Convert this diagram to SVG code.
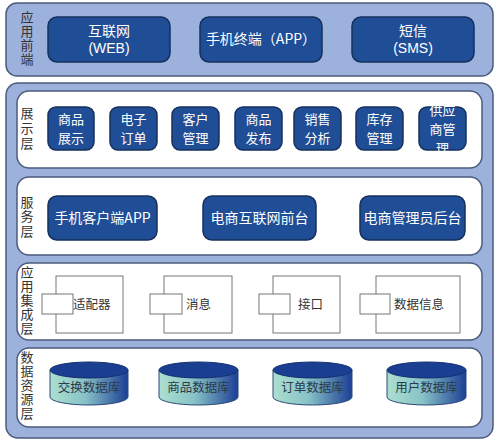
<svg xmlns="http://www.w3.org/2000/svg" width="499" height="447" viewBox="0 0 499 447">
<defs>
<linearGradient id="cyl" x1="0" y1="0" x2="1" y2="0">
<stop offset="0" stop-color="#acdfd0"/>
<stop offset="0.45" stop-color="#88c2c6"/>
<stop offset="1" stop-color="#1c3f96"/>
</linearGradient>
<style>
.outer{fill:#9cb1dc;stroke:#4c5b7c;stroke-width:1.5}
.inner{fill:#ffffff;stroke:#4c5b7c;stroke-width:1.5}
.btn{fill:#1f4e97;stroke:#16305e;stroke-width:1.5}
.bt{font-family:"Noto Sans CJK SC","Liberation Sans",sans-serif;font-size:14px;fill:#ffffff;text-anchor:middle}
.bt2{font-family:"Noto Sans CJK SC","Liberation Sans",sans-serif;font-size:13px;fill:#ffffff;text-anchor:middle}
.lat{font-family:"Liberation Sans",Arial,sans-serif;font-size:14px}
.side{font-family:"Noto Sans CJK SC","Liberation Sans",sans-serif;font-size:13px;fill:#333333;writing-mode:vertical-rl;text-anchor:start}
.comp{fill:#ffffff;stroke:#777777;stroke-width:1}
.ct{font-family:"Noto Sans CJK SC","Liberation Sans",sans-serif;font-size:12.5px;fill:#333333}
.dbtop{fill:#1a3e92;stroke:#14306e;stroke-width:1}
.dbbody{fill:url(#cyl);stroke:#2a4a7a;stroke-width:1}
.dt{font-family:"Noto Sans CJK SC","Liberation Sans",sans-serif;font-size:12.5px;fill:#2b3a48;text-anchor:middle}
</style>
</defs>
<rect width="499" height="447" fill="#ffffff"/>

<g id="frontend">
<rect class="outer" x="6" y="3" width="487" height="73" rx="11"/>
<text class="side" x="27" y="10.5" letter-spacing="1">应用前端</text>
</g>
<g id="web">
<rect class="btn" x="48" y="17" width="122" height="45" rx="9"/>
<text class="bt" x="109" y="36">互联网<tspan class="lat" x="109" dy="17">(WEB)</tspan></text>
</g>
<g id="app">
<rect class="btn" x="200" y="17" width="122" height="45" rx="9"/>
<text class="bt" x="261" y="44">手机终端（APP）</text>
</g>
<g id="sms">
<rect class="btn" x="352" y="17" width="122" height="45" rx="9"/>
<text class="bt" x="413" y="36">短信<tspan class="lat" x="413" dy="17">(SMS)</tspan></text>
</g>

<g id="backend">
<rect class="outer" x="6" y="83" width="487" height="355" rx="12"/>
</g>

<g id="display-layer">
<rect class="inner" x="17" y="91" width="465" height="77" rx="12"/>
<text class="side" x="27" y="106.5" letter-spacing="2">展示层</text>
</g>
<g id="d1"><rect class="btn" x="48" y="107" width="46" height="43" rx="8"/><text class="bt2" x="71" y="124">商品<tspan x="71" dy="19">展示</tspan></text></g>
<g id="d2"><rect class="btn" x="110" y="107" width="47" height="43" rx="8"/><text class="bt2" x="133.5" y="124">电子<tspan x="133.5" dy="19">订单</tspan></text></g>
<g id="d3"><rect class="btn" x="172" y="107" width="47" height="43" rx="8"/><text class="bt2" x="195.5" y="124">客户<tspan x="195.5" dy="19">管理</tspan></text></g>
<g id="d4"><rect class="btn" x="235" y="107" width="47" height="43" rx="8"/><text class="bt2" x="258.5" y="124">商品<tspan x="258.5" dy="19">发布</tspan></text></g>
<g id="d5"><rect class="btn" x="294" y="107" width="47" height="43" rx="8"/><text class="bt2" x="317.5" y="124">销售<tspan x="317.5" dy="19">分析</tspan></text></g>
<g id="d6"><rect class="btn" x="356" y="107" width="47" height="43" rx="8"/><text class="bt2" x="379.5" y="124">库存<tspan x="379.5" dy="19">管理</tspan></text></g>
<g id="d7"><rect class="btn" x="419" y="107" width="47" height="43" rx="8"/><text class="bt2" x="442.5" y="114.5">供应<tspan x="442.5" dy="19">商管</tspan><tspan x="442.5" dy="19">理</tspan></text></g>

<g id="service-layer">
<rect class="inner" x="17" y="177" width="465" height="78" rx="12"/>
<text class="side" x="27" y="195.5" letter-spacing="1.5">服务层</text>
</g>
<g id="s1"><rect class="btn" x="48" y="196" width="109" height="44" rx="9"/><text class="bt" x="102.5" y="223">手机客户端APP</text></g>
<g id="s2"><rect class="btn" x="203" y="196" width="113" height="44" rx="9"/><text class="bt" x="259.5" y="223">电商互联网前台</text></g>
<g id="s3"><rect class="btn" x="360" y="196" width="105" height="44" rx="9"/><text class="bt" x="412.5" y="223">电商管理员后台</text></g>

<g id="integration-layer">
<rect class="inner" x="17" y="263" width="465" height="77" rx="12"/>
<text class="side" x="27" y="265.5" letter-spacing="1">应用集成层</text>
</g>
<g id="i1"><rect class="comp" x="56" y="276" width="67" height="57"/><rect class="comp" x="42" y="294" width="31" height="20"/><text class="ct" x="73" y="309">适配器</text></g>
<g id="i2"><rect class="comp" x="164" y="276" width="68" height="57"/><rect class="comp" x="150" y="294" width="32" height="20"/><text class="ct" x="186" y="309">消息</text></g>
<g id="i3"><rect class="comp" x="273" y="276" width="67" height="57"/><rect class="comp" x="259" y="294" width="31" height="20"/><text class="ct" x="298" y="309">接口</text></g>
<g id="i4"><rect class="comp" x="376" y="276" width="84" height="57"/><rect class="comp" x="360" y="294" width="30" height="20"/><text class="ct" x="394" y="309">数据信息</text></g>

<g id="data-layer">
<rect class="inner" x="17" y="348" width="465" height="79" rx="12"/>
<text class="side" x="27" y="350.5" letter-spacing="1">数据资源层</text>
</g>
<g id="db1"><path class="dbbody" d="M50,370 L50,397 A39,8 0 0 0 128,397 L128,370 Z"/><ellipse class="dbtop" cx="89" cy="370" rx="39" ry="8"/><text class="dt" x="89" y="392">交换数据库</text></g>
<g id="db2"><path class="dbbody" d="M159,370 L159,397 A39.5,8 0 0 0 238,397 L238,370 Z"/><ellipse class="dbtop" cx="198.5" cy="370" rx="39.5" ry="8"/><text class="dt" x="198.5" y="392">商品数据库</text></g>
<g id="db3"><path class="dbbody" d="M273,370 L273,397 A39.5,8 0 0 0 352,397 L352,370 Z"/><ellipse class="dbtop" cx="312.5" cy="370" rx="39.5" ry="8"/><text class="dt" x="312.5" y="392">订单数据库</text></g>
<g id="db4"><path class="dbbody" d="M387,370 L387,397 A39.5,8 0 0 0 466,397 L466,370 Z"/><ellipse class="dbtop" cx="426.5" cy="370" rx="39.5" ry="8"/><text class="dt" x="426.5" y="392">用户数据库</text></g>

<g id="connectors"></g>
</svg>
